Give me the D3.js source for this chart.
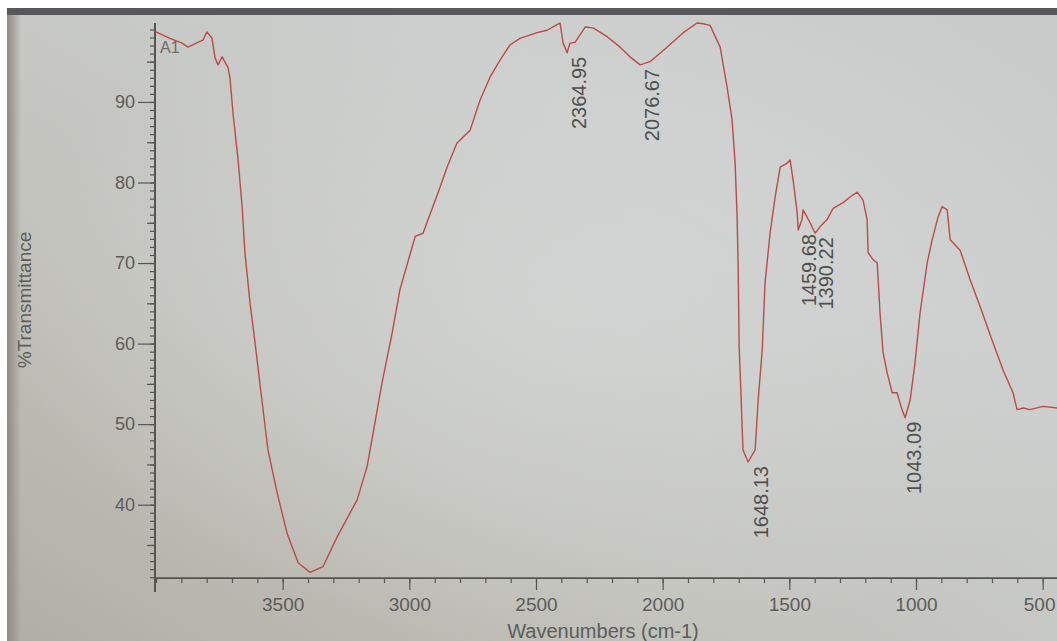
<!DOCTYPE html>
<html>
<head>
<meta charset="utf-8">
<script src="https://cdn.jsdelivr.net/npm/d3@7"></script>
<style>
  body { margin: 0; background: #ffffff; }
  svg { display: block; }
  text { font-family: "Liberation Sans", Arial, sans-serif; }
</style>
</head>
<body>
<div id="chart"></div>
<script>
// spectrum: wavenumber (cm-1) and %T
const wavenumbers = [4000, 3945, 3897, 3874, 3814, 3799, 3779, 3767, 3755, 3739, 3716, 3708, 3696, 3676, 3660, 3649, 3629, 3609, 3582, 3558, 3522, 3483, 3439, 3392, 3341, 3285, 3206, 3167, 3143, 3108, 3068, 3037, 2977, 2946, 2887, 2851, 2812, 2760, 2721, 2681, 2642, 2602, 2563, 2496, 2456, 2417, 2405, 2393, 2377, 2366, 2346, 2306, 2275, 2219, 2168, 2129, 2089, 2050, 1983, 1919, 1864, 1840, 1813, 1773, 1746, 1726, 1714, 1706, 1702, 1698, 1690, 1683, 1663, 1635, 1623, 1607, 1596, 1576, 1556, 1536, 1509, 1497, 1485, 1469, 1465, 1450, 1446, 1430, 1418, 1398, 1379, 1351, 1327, 1288, 1260, 1232, 1209, 1193, 1189, 1169, 1153, 1142, 1130, 1114, 1094, 1075, 1055, 1043, 1023, 1004, 984, 956, 936, 913, 897, 877, 865, 838, 826, 786, 747, 696, 656, 617, 601, 577, 550, 498, 443];
const transmittance = [98.7, 97.9, 97.3, 96.8, 97.7, 98.7, 97.9, 95.5, 94.6, 95.6, 94.3, 93.0, 88.6, 82.8, 77.0, 71.3, 65.1, 60.1, 53.0, 46.8, 41.5, 36.5, 32.8, 31.6, 32.3, 36.0, 40.6, 44.7, 48.9, 55.1, 61.3, 66.7, 73.3, 73.7, 78.7, 81.9, 84.9, 86.5, 90.2, 93.1, 95.2, 97.1, 97.9, 98.6, 98.9, 99.6, 99.8, 97.3, 96.1, 97.3, 97.4, 99.3, 99.2, 98.1, 96.8, 95.6, 94.6, 95.0, 96.8, 98.6, 99.8, 99.7, 99.5, 96.8, 91.9, 87.8, 82.4, 75.7, 69.5, 59.6, 53.0, 46.8, 45.3, 46.8, 53.0, 59.2, 67.5, 73.7, 78.2, 81.9, 82.4, 82.8, 80.3, 76.2, 74.1, 75.4, 76.6, 75.7, 75.0, 73.7, 74.5, 75.4, 76.8, 77.5, 78.2, 78.8, 77.8, 75.4, 71.3, 70.4, 70.0, 63.8, 58.9, 56.4, 53.9, 53.9, 51.8, 50.8, 53.0, 57.6, 63.8, 70.0, 72.9, 75.7, 77.0, 76.6, 72.9, 72.0, 71.6, 67.9, 64.6, 60.1, 56.7, 53.9, 51.8, 52.0, 51.8, 52.2, 52.0];

const peakWavenumbers = [2364.95, 2076.67, 1648.13, 1459.68, 1390.22, 1043.09];
const peakTransmittance = [96.1, 94.6, 45.3, 74.1, 73.7, 50.8];

const xTickLabels = [3500, 3000, 2500, 2000, 1500, 1000, 500];
const yTickLabels = [40, 50, 60, 70, 80, 90];

const width = 1057;
const height = 641;

const svg = d3.select('#chart')
    .append('svg')
    .attr('width', width)
    .attr('height', height);

// photographed screen background
const defs = svg.append('defs');
const bg = defs.append('linearGradient')
    .attr('id', 'screen')
    .attr('x1', '0').attr('y1', '1').attr('x2', '1').attr('y2', '0');
bg.append('stop').attr('offset', '0%').attr('stop-color', '#b1aea4');
bg.append('stop').attr('offset', '35%').attr('stop-color', '#c3c3bd');
bg.append('stop').attr('offset', '70%').attr('stop-color', '#cbcecd');
bg.append('stop').attr('offset', '100%').attr('stop-color', '#c8cbca');

const glow = defs.append('radialGradient')
    .attr('id', 'glow')
    .attr('cx', '0.55').attr('cy', '0.45').attr('r', '0.55');
glow.append('stop').attr('offset', '0%').attr('stop-color', '#d6d9d8').attr('stop-opacity', 0.7);
glow.append('stop').attr('offset', '100%').attr('stop-color', '#d6d9d8').attr('stop-opacity', 0);

const edge = defs.append('linearGradient')
    .attr('id', 'edge')
    .attr('x1', '0').attr('x2', '1');
edge.append('stop').attr('offset', '0%').attr('stop-color', '#8d8a82');
edge.append('stop').attr('offset', '100%').attr('stop-color', '#8d8a82').attr('stop-opacity', 0);

svg.append('rect').attr('x', 7).attr('y', 8).attr('width', width).attr('height', height).attr('fill', 'url(#screen)');
svg.append('rect').attr('x', 7).attr('y', 8).attr('width', width).attr('height', height).attr('fill', 'url(#glow)');
svg.append('rect').attr('x', 7).attr('y', 8).attr('width', 14).attr('height', height).attr('fill', 'url(#edge)');
svg.append('rect').attr('x', 7).attr('y', 8).attr('width', width).attr('height', 7).attr('fill', '#58585a');

const x = d3.scaleLinear().domain([4000, 400]).range([156, 1068]);
const y = d3.scaleLinear().domain([30.9, 99.8]).range([578, 23]);

const axisColor = '#555552';
const textColor = '#5c5c5a';

// y axis: minor, medium and major ticks
svg.append('g')
    .attr('transform', 'translate(155,0)')
    .call(d3.axisLeft(y).tickValues(d3.range(31, 100, 1)).tickSize(5).tickFormat(''))
    .call(g => g.select('.domain').remove());
svg.append('g')
    .attr('transform', 'translate(155,0)')
    .call(d3.axisLeft(y).tickValues(d3.range(35, 100, 10)).tickSize(8).tickFormat(''))
    .call(g => g.select('.domain').remove());
const yAxis = svg.append('g')
    .attr('transform', 'translate(155,0)')
    .call(d3.axisLeft(y).tickValues(yTickLabels).tickSize(17).tickPadding(3).tickSizeOuter(0));
svg.append('line')
    .attr('x1', 155).attr('x2', 155)
    .attr('y1', y(99.8)).attr('y2', 592)
    .attr('stroke', axisColor).attr('stroke-width', 2);

// x axis
svg.append('g')
    .attr('transform', 'translate(0,578)')
    .call(d3.axisBottom(x).tickValues(d3.range(4000, 399, -100)).tickSize(5).tickFormat(''))
    .call(g => g.select('.domain').remove());
const xAxis = svg.append('g')
    .attr('transform', 'translate(0,578)')
    .call(d3.axisBottom(x).tickValues(xTickLabels).tickSize(12).tickPadding(8).tickSizeOuter(0).tickFormat(d3.format('d')));
svg.append('line')
    .attr('x1', 155).attr('x2', width)
    .attr('y1', 578).attr('y2', 578)
    .attr('stroke', axisColor).attr('stroke-width', 1.5);

svg.selectAll('.tick line').attr('stroke', axisColor).attr('stroke-width', 1.2);
svg.selectAll('.domain').attr('stroke', axisColor);
yAxis.selectAll('text').style('font-size', '18px').attr('fill', textColor);
xAxis.selectAll('text').style('font-size', '19px').attr('fill', textColor);
// last label sits at the right edge: keep it inside the picture
xAxis.selectAll('.tick text')
    .filter(d => d === 500)
    .attr('text-anchor', 'end')
    .attr('x', width - 2 - x(500));

// axis titles
svg.append('text')
    .attr('x', 603).attr('y', 638)
    .attr('text-anchor', 'middle')
    .style('font-size', '20px')
    .attr('fill', textColor)
    .text('Wavenumbers (cm-1)');
svg.append('text')
    .attr('transform', 'translate(31,300) rotate(-90)')
    .attr('text-anchor', 'middle')
    .style('font-size', '19px')
    .attr('fill', textColor)
    .text('%Transmittance');

svg.append('text')
    .attr('x', 160).attr('y', 53)
    .style('font-size', '16px')
    .attr('fill', '#736a64')
    .text('A1');

// spectrum
const spectrum = wavenumbers.map((w, i) => [w, transmittance[i]]);
const line = d3.line()
    .x(d => x(d[0]))
    .y(d => y(d[1]));

svg.append('path')
    .datum(spectrum)
    .attr('d', line)
    .attr('fill', 'none')
    .attr('stroke', '#bd4a44')
    .attr('stroke-width', 1.4)
    .attr('stroke-linejoin', 'round');

// peak labels, rotated, hanging below each peak
svg.selectAll('.peak')
    .data(peakWavenumbers)
    .enter()
    .append('text')
    .attr('class', 'peak')
    .attr('transform', (d, i) => `translate(${x(d) + 16},${y(peakTransmittance[i]) + 4}) rotate(-90)`)
    .attr('text-anchor', 'end')
    .style('font-size', '20px')
    .attr('fill', '#4f4f4d')
    .text(d => d.toFixed(2));
</script>
</body>
</html>
